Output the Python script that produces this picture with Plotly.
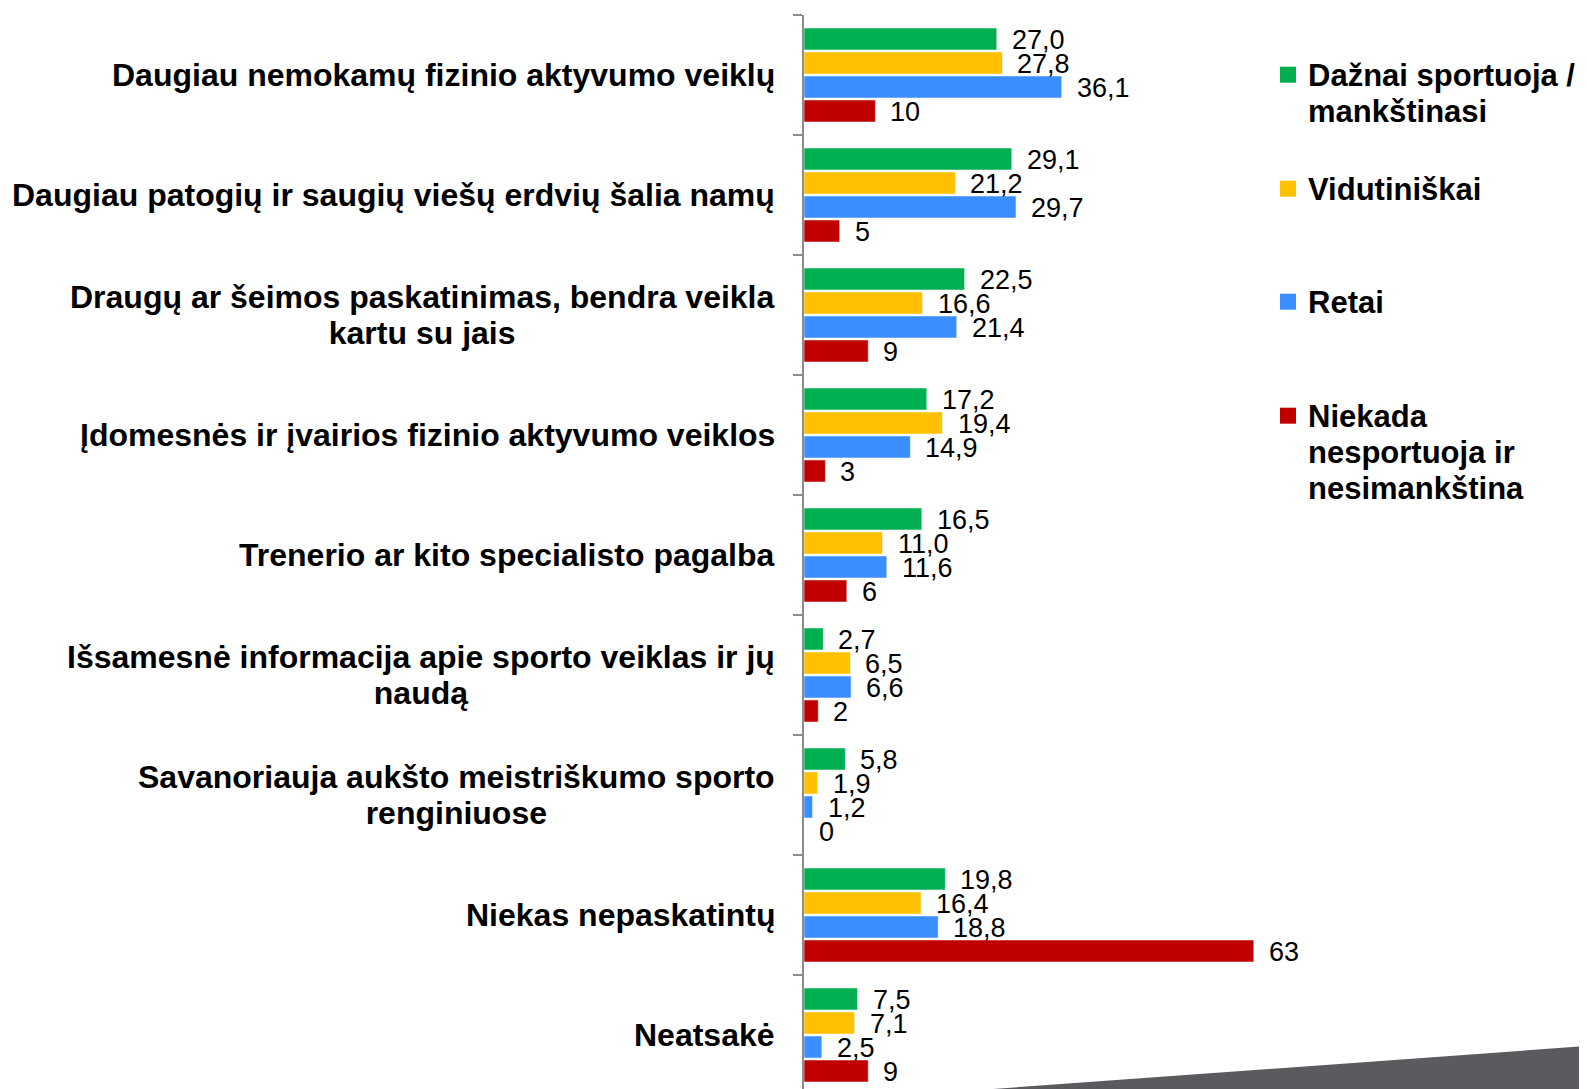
import plotly.graph_objects as go

categories = [
    "Daugiau nemokamų fizinio aktyvumo veiklų",
    "Daugiau patogių ir saugių viešų erdvių šalia namų",
    "Draugų ar šeimos paskatinimas, bendra veikla<br>kartu su jais",
    "Įdomesnės ir įvairios fizinio aktyvumo veiklos",
    "Trenerio ar kito specialisto pagalba",
    "Išsamesnė informacija apie sporto veiklas ir jų<br>naudą",
    "Savanoriauja aukšto meistriškumo sporto<br>renginiuose",
    "Niekas nepaskatintų",
    "Neatsakė",
]

series_names = [
    "Dažnai sportuoja /<br>mankštinasi",
    "Vidutiniškai",
    "Retai",
    "Niekada<br>nesportuoja ir<br>nesimankština",
]

dazni = [27.0, 29.1, 22.5, 17.2, 16.5, 2.7, 5.8, 19.8, 7.5]
vidutiniskai = [27.8, 21.2, 16.6, 19.4, 11.0, 6.5, 1.9, 16.4, 7.1]
retai = [36.1, 29.7, 21.4, 14.9, 11.6, 6.6, 1.2, 18.8, 2.5]
niekada = [10, 5, 9, 3, 6, 2, 0, 63, 9]

series_values = [dazni, vidutiniskai, retai, niekada]
series_decimals = [1, 1, 1, 0]
colors = ["#00B050", "#FFC000", "#3A8EFF", "#C00000"]

# page has an 8px body margin: figure coordinates = page coordinates - 8
W, H = 1579, 1081
ML, MR, MT, MB = 796, 0, 7, 0
PX_PER_UNIT = 7.14
CAT_PX = 120

plot_w = W - ML - MR
plot_h = H - MT - MB
x_max = plot_w / PX_PER_UNIT
n_cat = len(categories)
y_bottom = -0.5 + plot_h / CAT_PX

ypos = list(range(n_cat))
BARGAP = 0.2
n_ser = len(series_values)
slot = (1 - BARGAP) / n_ser

font_family = "Liberation Sans, Arial, sans-serif"


def big(text, size):
    return "<br>".join(f'<span style="font-size:{size}px">{ln}</span>' for ln in text.split("<br>"))


fig = go.Figure()
annotations = []
for k, (name, vals, dec, col) in enumerate(zip(series_names, series_values, series_decimals, colors)):
    fig.add_trace(go.Bar(
        y=ypos, x=vals, orientation="h", name=name,
        marker=dict(color=col, line=dict(color="rgba(255,255,255,0.55)", width=1)),
        showlegend=False, hoverinfo="skip",
    ))
    for i, v in enumerate(vals):
        txt = f"{v:.{dec}f}".replace(".", ",")
        annotations.append(dict(
            x=v, y=i - (1 - BARGAP) / 2 + slot * (k + 0.5),
            xref="x", yref="y", text=txt, showarrow=False,
            xanchor="left", yanchor="middle", xshift=13, yshift=-1,
            font=dict(family=font_family, size=27, color="#000000"),
        ))

# category labels
for i, c in enumerate(categories):
    annotations.append(dict(
        x=0, y=i, xref="paper", yref="y", text=big(c, 32), showarrow=False,
        xanchor="right", yanchor="middle", align="center", xshift=-27,
        font=dict(family=font_family, size=28, color="#000000", weight="bold"),
    ))

# legend-only traces, each in its own legend
legend_tops_px = [42, 156, 269, 383]
layout_legends = {}
for k, (name, col) in enumerate(zip(series_names, colors)):
    key = "legend" if k == 0 else f"legend{k+1}"
    fig.add_trace(go.Scatter(
        x=[None], y=[None], mode="markers", name=big(name, 31),
        marker=dict(symbol="square", size=16, color=col),
        showlegend=True, legend=key, hoverinfo="skip",
    ))
    layout_legends[key] = dict(
        x=(1260 - ML) / plot_w, xanchor="left",
        y=(H - MB - legend_tops_px[k]) / plot_h, yanchor="top",
        valign="top", bgcolor="rgba(0,0,0,0)",
        font=dict(family=font_family, size=28, color="#000000", weight="bold"),
        itemclick=False, itemdoubleclick=False,
    )

fig.update_layout(
    width=W, height=H,
    margin=dict(l=ML, r=MR, t=MT, b=MB, pad=0),
    paper_bgcolor="white", plot_bgcolor="white",
    barmode="group", bargap=BARGAP, bargroupgap=0.08,
    xaxis=dict(range=[0, x_max], visible=False, fixedrange=True),
    yaxis=dict(
        range=[y_bottom, -0.5], showticklabels=False, ticks="",
        showgrid=False, zeroline=False,
        showline=True, linecolor="#8C8C8C", linewidth=2,
        minor=dict(tickvals=[i - 0.5 for i in range(n_cat + 1)], ticks="outside",
                   ticklen=9, tickwidth=2, tickcolor="#8C8C8C", showgrid=False),
        fixedrange=True,
    ),
    annotations=annotations,
    shapes=[dict(
        type="path", xref="paper", yref="paper",
        path=f"M {(985 - ML) / plot_w},0 L 1,{(H - 1038) / plot_h} L 1,0 Z",
        fillcolor="#5A5B5F", line=dict(width=0), layer="below",
    )],
    **layout_legends,
)

fig.write_html("out.html", config={"displayModeBar": False})
